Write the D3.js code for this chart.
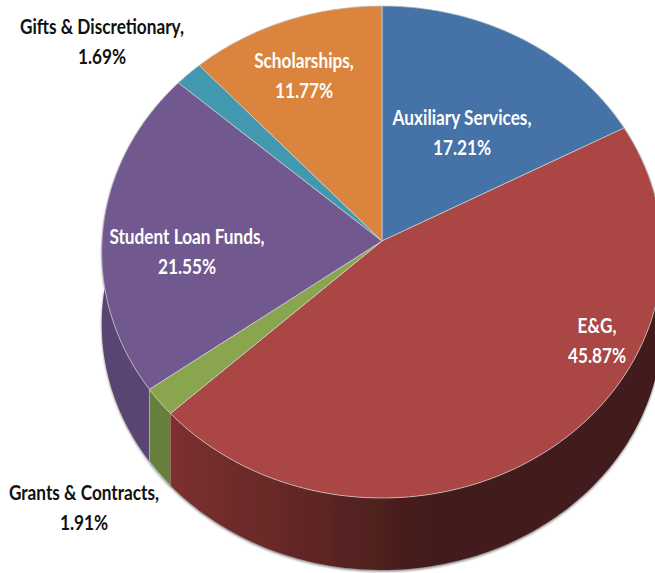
<!DOCTYPE html>
<html>
<head>
<meta charset="utf-8">
<script src="https://cdn.jsdelivr.net/npm/d3@7/dist/d3.min.js"></script>
<style>
html,body{margin:0;padding:0;background:#fff;}
svg{display:block;}
text{font-family:Lato,"Noto Sans",sans-serif;font-weight:700;text-anchor:middle;font-size:20.5px;}
</style>
</head>
<body>
<svg id="chart" width="655" height="573"></svg>
<script>
// Fund shares, clockwise from twelve o'clock
const categories = ["Auxiliary Services","E&G","Grants & Contracts","Student Loan Funds","Gifts & Discretionary","Scholarships"];
const shares = [17.21,45.87,1.91,21.55,1.69,11.77];
const topColors = ["#4572a7","#aa4643","#89a54e","#71588f","#4198af","#db843d"];
const wallColors = ["#375a85","#431c1a","#67803e","#5a4472","#31788a","#a8652f"];

const svg = d3.select("#chart");
const cx = 382, cy = 241, radiusX = 280, radiusY = 245.5, tilt = 0.0447, depth = 72;

// Perspective projection of a point on the unit disc; angle runs clockwise from the top
function project(angle, r = 1, drop = 0) {
  const u = Math.sin(angle) * r, v = -Math.cos(angle) * r, w = 1 - tilt * v;
  return [cx + radiusX * u / w, cy + radiusY * v / w + drop];
}

const arcs = d3.pie().sort(null).value(d => d)(shares);
const line = d3.line().curve(d3.curveLinear);
const sweep = (a, b) => d3.range(0, 121).map(i => a + (b - a) * i / 120);

const defs = svg.append("defs");
const shadow = defs.append("filter").attr("id", "edgeShadow")
  .attr("x", "-5%").attr("y", "-5%").attr("width", "110%").attr("height", "110%");
shadow.append("feDropShadow").attr("dx", 0).attr("dy", 1.5).attr("stdDeviation", 1.3)
  .attr("flood-color", "#000").attr("flood-opacity", 0.5);

// Side shading for the large front slice fades to its darkest tone towards the right
const sideFade = defs.append("linearGradient").attr("id", "sideFade")
  .attr("gradientUnits", "userSpaceOnUse").attr("x1", 170).attr("x2", 430).attr("y1", 0).attr("y2", 0);
sideFade.append("stop").attr("offset", 0).attr("stop-color", "#7d302f");
sideFade.append("stop").attr("offset", 0.5).attr("stop-color", "#622726");
sideFade.append("stop").attr("offset", 1).attr("stop-color", "#431c1a");

// Side walls, furthest first so that nearer slices overlap them
const walls = svg.append("g").attr("filter", "url(#edgeShadow)");
walls.selectAll("path")
  .data(arcs.map((d, i) => ({ ...d, i })).sort((a, b) =>
    -Math.cos((a.startAngle + a.endAngle) / 2) - -Math.cos((b.startAngle + b.endAngle) / 2)))
  .join("path")
  .attr("d", d => {
    const rim = sweep(d.startAngle, d.endAngle);
    return line(rim.map(a => project(a)).concat(rim.slice().reverse().map(a => project(a, 1, depth)))) + "Z";
  })
  .attr("fill", d => d.i === 1 ? "url(#sideFade)" : wallColors[d.i])
  .attr("stroke", d => d.i === 2 ? "#c9cfbb" : "none")
  .attr("stroke-width", 0.6);

// Top face of the pie
svg.append("g").selectAll("path")
  .data(arcs)
  .join("path")
  .attr("d", d => line([[cx, cy]].concat(sweep(d.startAngle, d.endAngle).map(a => project(a)))) + "Z")
  .attr("fill", (d, i) => topColors[i])
  .attr("stroke", "#d2d2d2")
  .attr("stroke-width", 0.7)
  .attr("stroke-linejoin", "round");

// Two-line labels: name on top, share below
const labelNames = ["Auxiliary Services,","E&G,","Grants & Contracts,","Student Loan Funds,","Gifts & Discretionary,","Scholarships,"];
const labelX = [462,597,84,187,102,304];
const labelY = [125,333,500,244,34,68];
const labelInk = ["#fff","#fff","#111","#fff","#111","#fff"];
const narrow = 0.84;
const labels = svg.append("g").selectAll("text")
  .data(categories)
  .join("text")
  .attr("transform", (d, i) => `translate(${labelX[i]},${labelY[i]}) scale(${narrow},1)`)
  .attr("fill", (d, i) => labelInk[i]);
labels.append("tspan").attr("x", 0).attr("y", 0).text((d, i) => labelNames[i]);
labels.append("tspan").attr("x", 0).attr("y", 30.5).text((d, i) => shares[i].toFixed(2) + "%");
</script>
</body>
</html>
